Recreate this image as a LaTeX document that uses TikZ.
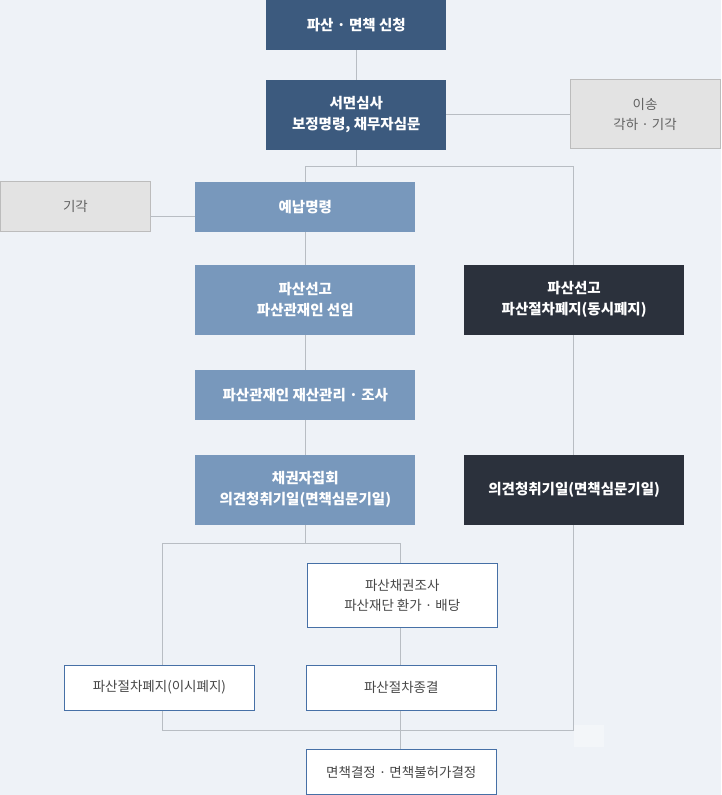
\documentclass[tikz,border=0pt]{standalone}
\usepackage{fontspec}
\setmainfont{Noto Sans CJK KR}
\usepackage{tikz}
\usepackage{xcolor}

\definecolor{bgcol}{HTML}{EEF2F7}
\definecolor{navy}{HTML}{3C5A7E}
\definecolor{steel}{HTML}{7898BC}
\definecolor{ink}{HTML}{2B313C}
\definecolor{greybox}{HTML}{E3E3E3}
\definecolor{greyedge}{HTML}{BCBCBC}
\definecolor{wire}{HTML}{B8BDC3}
\definecolor{frameblue}{HTML}{4670A6}

\begin{document}
\begin{tikzpicture}[x=1pt, y=-1pt,
    box/.style={inner sep=0pt, align=center, minimum width=220pt, minimum height=50pt},
    navybox/.style={box, fill=navy, text=white, font=\fontsize{14.5}{21}\selectfont\bfseries, minimum width=180pt},
    steelbox/.style={box, fill=steel, text=white, font=\fontsize{14.5}{21}\selectfont\bfseries},
    inkbox/.style={box, fill=ink, text=white, font=\fontsize{14.5}{21}\selectfont\bfseries},
    greybx/.style={box, fill=greybox, draw=greyedge, line width=1pt, text=black!62, font=\fontsize{13.5}{20}\selectfont, minimum width=150pt},
    whitebox/.style={box, fill=white, draw=frameblue, line width=1pt, text=black!72, font=\fontsize{13.5}{20}\selectfont, minimum width=190pt, minimum height=45pt},
    wireln/.style={draw=wire, line width=1pt}]

  % Background
  \fill[bgcol] (0,0) rectangle (721,795);
  \fill[white, opacity=0.35] (574,725) rectangle (604,747);

  % Main column
  \node[navybox] (apply) at (356,25) {파산 · 면책 신청};
  \node[navybox, minimum height=70pt] (review) at (356,115) {서면심사\\보정명령, 채무자심문};
  \node[greybx, minimum height=69pt] (transfer) at (645,114.5) {이송\\각하 · 기각};
  \node[steelbox] (deposit) at (305,207) {예납명령};
  \node[greybx] (dismiss) at (75,207) {기각};
  \node[steelbox, minimum height=70pt] (declare) at (305,300) {파산선고\\파산관재인 선임};
  \node[steelbox] (manage) at (305,395) {파산관재인 재산관리 · 조사};
  \node[steelbox, minimum height=70pt] (meeting) at (305,490) {채권자집회\\의견청취기일(면책심문기일)};

  % Simultaneous abolition column
  \node[inkbox, minimum height=70pt] (simul) at (574,300) {파산선고\\파산절차폐지(동시폐지)};
  \node[inkbox, minimum height=70pt] (hearing) at (574,490) {의견청취기일(면책심문기일)};

  % Lower white boxes
  \node[whitebox, minimum height=64pt] (claims) at (402,596) {파산채권조사\\파산재단 환가 · 배당};
  \node[whitebox] (abolish) at (159,688) {파산절차폐지(이시폐지)};
  \node[whitebox] (closing) at (401,688) {파산절차종결};
  \node[whitebox] (discharge) at (401,772.5) {면책결정 · 면책불허가결정};

  % Junction points
  \coordinate (split) at (573,167);
  \coordinate (fork) at (162,544);
  \coordinate (forkr) at (400,544);
  \coordinate (merge) at (573,731);
  \coordinate (dz) at (150,217);

  % Connectors
  \path[wireln] (apply) -- (review);
  \path[wireln] (review.east) -- (review.east -| transfer.west);
  \path[wireln] (review.south) -- (review.south |- split);
  \path[wireln] (deposit.north |- split) -- (split) -- (simul.north -| split);
  \path[wireln] (deposit.north |- split) -- (deposit.north);
  \path[wireln] (dz) -- (dz -| deposit.west);
  \path[wireln] (deposit) -- (declare) -- (manage) -- (meeting);
  \path[wireln] (simul.south -| split) -- (hearing.north -| split);
  \path[wireln] (hearing.south -| split) -- (merge);
  \path[wireln] (meeting.south) -- (meeting.south |- fork);
  \path[wireln] (fork) -- (forkr) -- (forkr |- claims.north);
  \path[wireln] (fork) -- (fork |- abolish.north);
  \path[wireln] (fork |- abolish.south) -- (fork |- merge) -- (merge);
  \path[wireln] (claims.south -| forkr) -- (closing.north -| forkr);
  \path[wireln] (closing.south -| forkr) -- (discharge.north -| forkr);
\end{tikzpicture}
\end{document}
